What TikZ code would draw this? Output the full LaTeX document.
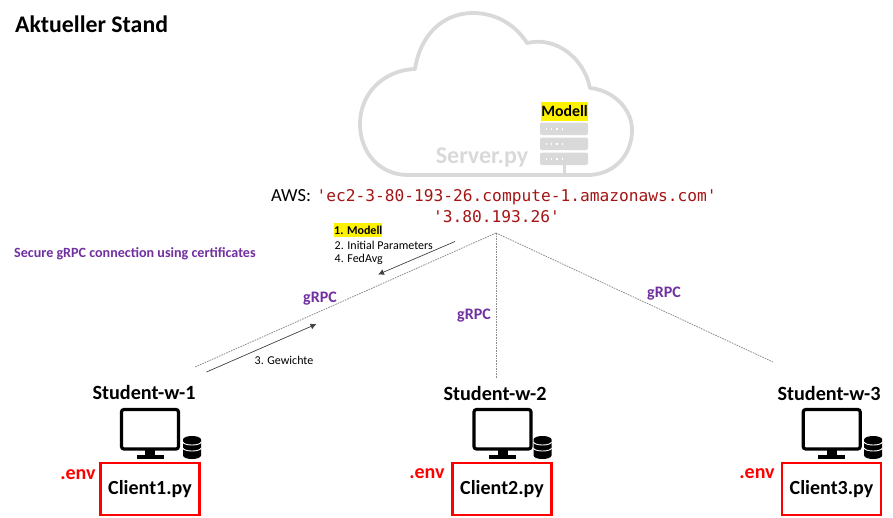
\documentclass[tikz,border=0pt]{standalone}
\usepackage{fontspec}
\setmainfont{Carlito}
\setmonofont{DejaVu Sans Mono}
\usepackage{xcolor}
\usetikzlibrary{arrows.meta}
\definecolor{grpcviolet}{HTML}{7030A0}
\definecolor{cloudgray}{HTML}{D9D9D9}
\definecolor{awsred}{HTML}{A31515}
\tikzset{
  label/.style={inner sep=0pt, font=\bfseries\fontsize{20.2}{22}\selectfont},
  grpc/.style={inner sep=0pt, text=grpcviolet, font=\bfseries\fontsize{16}{18}\selectfont},
  envfile/.style={inner sep=0pt, text=red, font=\bfseries\fontsize{20}{22}\selectfont},
  clientbox/.style={draw=red, line width=2.8pt, minimum width=99pt, minimum height=52pt, inner sep=0pt, font=\bfseries\fontsize{20}{22}\selectfont},
  small/.style={inner sep=0pt, font=\fontsize{12}{14}\selectfont},
  awstext/.style={inner sep=0pt, anchor=base west, text=awsred, font=\ttfamily\fontsize{16.2}{18}\selectfont},
  conn/.style={dash pattern=on 1.6pt off 1pt, black!45, line width=0.8pt},
  flow/.style={-{Latex[length=6pt,width=6pt]}, black!75, line width=0.7pt},
  rack/.style={fill=cloudgray, rounded corners=2pt},
  rackdot/.style={white, line width=1.2pt, dash pattern=on 1.2pt off 4pt},
}
% monitor + database, #1 = centre of the monitor, #2 = database offset
\newcommand{\Station}[2]{
  \draw[black, line width=3.2pt, rounded corners=2.5pt] (#1+-28.5,449) rectangle (#1+28.5,409.5);
  \fill[black] (#1+-5,450) rectangle (#1+5,456);
  \fill[black] (#1+-13.5,455) rectangle (#1+13.5,459);
  \fill[black] (#1+#2,439.5) arc[start angle=180, end angle=360, x radius=9, y radius=3.5]
    -- (#1+#2+18,455.5) arc[start angle=0, end angle=180, x radius=9, y radius=3.5] -- cycle;
  \draw[white, line width=0.9pt] (#1+#2,442) arc[start angle=180, end angle=0, x radius=9, y radius=3];
  \draw[white, line width=0.9pt] (#1+#2,448) arc[start angle=180, end angle=0, x radius=9, y radius=3];
}
\begin{document}
\begin{tikzpicture}[x=1pt, y=-1pt]
\useasboundingbox (0,0) rectangle (893,517);

\node[inner sep=0pt, anchor=west, font=\bfseries\fontsize{23.8}{26}\selectfont] (title) at (15,24) {Aktueller Stand};

% cloud
\draw[cloudgray, line width=3.8pt, line join=round]
  (415,69) .. controls (385,70) and (360,92) .. (360,124)
  .. controls (360,153) and (380,175) .. (408,175)
  -- (588,175)
  .. controls (612,175) and (632,157) .. (632,130)
  .. controls (632,108) and (612,90) .. (590,88)
  .. controls (584,58) and (556,36) .. (527,43)
  .. controls (515,24) and (495,13) .. (473,13)
  .. controls (442,13) and (420,36) .. (415,69) -- cycle;
\fill[rack] (540,122.5) rectangle (588,135);
\fill[rack] (540,137.5) rectangle (588,150);
\fill[rack] (540,152.5) rectangle (588,165);
\draw[rackdot] (546,129) -- (566,129);
\draw[rackdot] (546,144) -- (566,144);
\draw[rackdot] (546,159) -- (566,159);
\fill[cloudgray] (562.5,165) rectangle (566,175);
\node[inner sep=0pt, text=cloudgray, font=\bfseries\fontsize{24}{26}\selectfont] (server) at (482,158) {Server.py};
\node[fill=yellow, inner sep=0pt, minimum width=47pt, minimum height=19pt, font=\bfseries\fontsize{15.8}{18}\selectfont] (modell) at (564.5,111.5) {Modell};

% aws
\node[inner sep=0pt, anchor=base west, font=\fontsize{18.5}{20}\selectfont] (aws) at (271,201.7) {AWS:};
\node[awstext] (dns) at (316.5,201.7) {'ec2-3-80-193-26.compute-1.amazonaws.com'};
\node[awstext] (ip) at (433,222.7) {'3.80.193.26'};

\node[grpc, anchor=west, font=\bfseries\fontsize{14.1}{16}\selectfont] (secure) at (14,254) {Secure gRPC connection using certificates};

% connections
\coordinate (hub) at (496,233);
\coordinate (end1) at (195,367);
\coordinate (end2) at (496,378);
\coordinate (end3) at (773,362);
\draw[conn] (hub) -- (end1);
\draw[conn] (hub) -- (end2);
\draw[conn] (hub) -- (end3);
\node[grpc] (grpc1) at (320,298.5) {gRPC};
\node[grpc] (grpc2) at (474,315.5) {gRPC};
\node[grpc] (grpc3) at (664,293.5) {gRPC};

% messages
\node[small, fill=yellow, minimum width=48pt, minimum height=14pt, font=\bfseries\fontsize{12}{14}\selectfont] (step1) at (358.3,230) {1. Modell};
\node[small, anchor=base west] (step2) at (334.5,249) {2. Initial Parameters};
\node[small, anchor=base west] (step4) at (334.5,262.7) {4. FedAvg};
\coordinate (down1) at (455,241.5);
\coordinate (down2) at (378,274.5);
\coordinate (up1) at (206.5,372);
\coordinate (up2) at (316.5,324);
\draw[flow] (down1) -- (down2);
\draw[flow] (up1) -- (up2);
\node[small] (weights) at (284,360) {3. Gewichte};

% stations
\node[label] (student1) at (144,392) {Student-w-1};
\node[label] (student2) at (495,393.5) {Student-w-2};
\node[label] (student3) at (829,393) {Student-w-3};
\Station{150}{33}
\Station{502.5}{31}
\Station{831.7}{32.5}
\node[clientbox] (client1) at (150,489) {Client1.py};
\node[clientbox] (client2) at (502,489) {Client2.py};
\node[clientbox] (client3) at (831.5,489) {Client3.py};
\node[envfile] (env1) at (78,475) {.env};
\node[envfile] (env2) at (427,474) {.env};
\node[envfile] (env3) at (757,474) {.env};
\end{tikzpicture}
\end{document}
